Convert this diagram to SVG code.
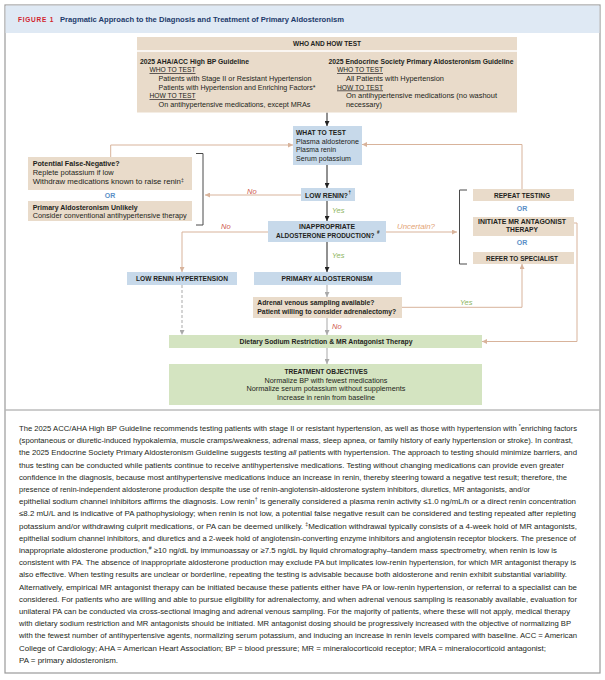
<svg xmlns="http://www.w3.org/2000/svg" width="605" height="680" viewBox="0 0 605 680">
<defs>
<style>
text{font-family:"Liberation Sans",Arial,sans-serif;fill:#231f20;}
.t{font-size:7px;}
.b{font-size:7px;font-weight:bold;}
.c{text-anchor:middle;}
.u{text-decoration:underline;}
.sup{font-size:4.5px;font-weight:bold;}
.or{font-size:7px;font-weight:bold;fill:#5b8fc7;text-anchor:middle;}
.no{font-size:7.5px;font-style:italic;fill:#cf5a50;}
.yes{font-size:7.5px;font-style:italic;fill:#8db55e;}
.unc{font-size:7.5px;font-style:italic;fill:#e3a476;}
.cap{font-size:7.6px;fill:#231f20;}
.tan{fill:#e9dbca;}
.blue{fill:#c7d9ea;}
.green{fill:#d4e4c1;}
.lt{fill:none;stroke:#d8b39b;stroke-width:1;}
.lk{fill:none;stroke:#222;stroke-width:1;}
.lg{fill:none;stroke:#a9a9a9;stroke-width:1;}
.br{fill:none;stroke:#4a4a4a;stroke-width:1;}
</style>
<marker id="ak" viewBox="0 0 6 6" refX="6" refY="3" markerWidth="5" markerHeight="5" orient="auto" markerUnits="userSpaceOnUse"><path d="M0,0 L6,3 L0,6 z" fill="#222"/></marker>
<marker id="at" viewBox="0 0 6 6" refX="6" refY="3" markerWidth="5" markerHeight="5" orient="auto" markerUnits="userSpaceOnUse"><path d="M0,0 L6,3 L0,6 z" fill="#d8b39b"/></marker>
<marker id="ag" viewBox="0 0 6 6" refX="6" refY="3" markerWidth="5" markerHeight="5" orient="auto" markerUnits="userSpaceOnUse"><path d="M0,0 L6,3 L0,6 z" fill="#a9a9a9"/></marker>
</defs>
<rect x="0" y="0" width="605" height="680" fill="#ffffff"/>
<rect x="5" y="5" width="595" height="668" fill="#ffffff" stroke="#9a9a9a" stroke-width="1.2"/>
<rect x="5.6" y="5.6" width="593.8" height="27.4" fill="#dfe9f4"/>
<text x="18" y="21.5" style="font-size:7px;font-weight:bold;fill:#d2232a;letter-spacing:0.8px" textLength="36" lengthAdjust="spacingAndGlyphs">FIGURE 1</text>
<text x="60" y="21.5" style="font-size:8px;font-weight:bold;fill:#1d3a6b" textLength="284" lengthAdjust="spacingAndGlyphs">Pragmatic Approach to the Diagnosis and Treatment of Primary Aldosteronism</text>

<g id="connectors">
<path class="lk" d="M327 112.5 V126" marker-end="url(#ak)"/>
<path class="lk" d="M327 165 V188" marker-end="url(#ak)"/>
<path class="lk" d="M327 201 V221" marker-end="url(#ak)"/>
<path class="lk" d="M327 242 V272" marker-end="url(#ak)"/>
<path class="lt" d="M110.7 157 V145 H293" marker-end="url(#at)"/>
<path class="lt" d="M301 195 H205" marker-end="url(#at)"/>
<path class="lt" d="M268 232 H182 V272" marker-end="url(#at)"/>
<path class="lt" d="M386 232 H457" marker-end="url(#at)"/>
<path class="lt" d="M522 189 V144.5 H362" marker-end="url(#at)"/>
<path class="lt" d="M574 223 H577 V341.5 H482" marker-end="url(#at)"/>
<path class="lt" d="M402 307.3 H522 V264" marker-end="url(#at)"/>
<path class="lg" d="M327 285 V297" marker-end="url(#ag)"/>
<path class="lg" d="M327 318 V335" marker-end="url(#ag)"/>
<path class="lg" d="M327 348 V364" marker-end="url(#ag)"/>
<path class="lg" d="M182 285 V335" stroke-dasharray="3,2" marker-end="url(#ag)"/>
<path class="br" d="M196 153.5 H203 V225 H196"/>
<path class="br" d="M467 190 H459.5 V264 H467"/>
<text class="no" x="247" y="193.5">No</text>
<text class="yes" x="332" y="212.5">Yes</text>
<text class="no" x="221" y="228.5">No</text>
<text class="unc" x="397" y="228.5" textLength="38" lengthAdjust="spacingAndGlyphs">Uncertain?</text>
<text class="yes" x="332" y="257.5">Yes</text>
<text class="yes" x="460" y="305">Yes</text>
<text class="no" x="332" y="329">No</text>
</g>

<g id="who">
<rect class="tan" x="137" y="37" width="380" height="75.5"/>
<line x1="137" y1="51" x2="517" y2="51" stroke="#ffffff" stroke-width="1.5"/>
<text class="b c" x="327" y="46" textLength="68" lengthAdjust="spacingAndGlyphs">WHO AND HOW TEST</text>
<text class="b" x="140" y="63.5" textLength="109" lengthAdjust="spacingAndGlyphs">2025 AHA/ACC High BP Guideline</text>
<text class="t u" x="149.5" y="72" textLength="46" lengthAdjust="spacingAndGlyphs">WHO TO TEST</text>
<text class="t" x="158.5" y="81" textLength="153" lengthAdjust="spacingAndGlyphs">Patients with Stage II or Resistant Hypertension</text>
<text class="t" x="158.5" y="89.5" textLength="157" lengthAdjust="spacingAndGlyphs">Patients with Hypertension and Enriching Factors*</text>
<text class="t u" x="149.5" y="98" textLength="46" lengthAdjust="spacingAndGlyphs">HOW TO TEST</text>
<text class="t" x="158.5" y="106.5" textLength="152" lengthAdjust="spacingAndGlyphs">On antihypertensive medications, except MRAs</text>
<text class="b" x="328.5" y="63.5" textLength="185" lengthAdjust="spacingAndGlyphs">2025 Endocrine Society Primary Aldosteronism Guideline</text>
<text class="t u" x="337" y="72" textLength="46" lengthAdjust="spacingAndGlyphs">WHO TO TEST</text>
<text class="t" x="346" y="81" textLength="98" lengthAdjust="spacingAndGlyphs">All Patients with Hypertension</text>
<text class="t u" x="337" y="89.5" textLength="46" lengthAdjust="spacingAndGlyphs">HOW TO TEST</text>
<text class="t" x="346" y="98" textLength="151" lengthAdjust="spacingAndGlyphs">On antihypertensive medications (no washout</text>
<text class="t" x="346" y="106.5" textLength="36" lengthAdjust="spacingAndGlyphs">necessary)</text>
</g>

<g id="what">
<rect class="blue" x="293" y="126" width="69" height="39"/>
<text class="b" x="296" y="134.5" textLength="50" lengthAdjust="spacingAndGlyphs">WHAT TO TEST</text>
<text class="t" x="296" y="143.5" textLength="63" lengthAdjust="spacingAndGlyphs">Plasma aldosterone</text>
<text class="t" x="296" y="152" textLength="40" lengthAdjust="spacingAndGlyphs">Plasma renin</text>
<text class="t" x="296" y="160.5" textLength="55" lengthAdjust="spacingAndGlyphs">Serum potassium</text>
</g>

<g id="lowrenin">
<rect class="blue" x="301" y="188" width="54" height="13"/>
<text class="b" x="305" y="197.5" textLength="43" lengthAdjust="spacingAndGlyphs">LOW RENIN?</text>
<text class="sup" x="348.6" y="194.3">†</text>
</g>

<g id="inappropriate">
<rect class="blue" x="268" y="221" width="118" height="21"/>
<text class="b c" x="327" y="229.3" textLength="56" lengthAdjust="spacingAndGlyphs">INAPPROPRIATE</text>
<text x="276" y="237.8" style="font-size:6.3px;font-weight:bold" textLength="98.5" lengthAdjust="spacingAndGlyphs">ALDOSTERONE PRODUCTION?</text>
<text class="sup" x="377" y="234.2">#</text>
</g>

<g id="lowreninhtn">
<rect class="blue" x="127" y="272" width="110" height="13"/>
<text class="b c" x="182" y="281" textLength="92" lengthAdjust="spacingAndGlyphs">LOW RENIN HYPERTENSION</text>
</g>

<g id="pa">
<rect class="blue" x="254" y="272" width="147" height="13"/>
<text class="b c" x="327" y="281" textLength="91" lengthAdjust="spacingAndGlyphs">PRIMARY ALDOSTERONISM</text>
</g>

<g id="adrenal">
<rect class="tan" x="253" y="297" width="149" height="21"/>
<text class="b" x="257.3" y="305.3" textLength="117" lengthAdjust="spacingAndGlyphs">Adrenal venous sampling available?</text>
<text class="b" x="257.3" y="314.3" textLength="139" lengthAdjust="spacingAndGlyphs">Patient willing to consider adrenalectomy?</text>
</g>

<g id="dietary">
<rect class="green" x="169" y="335" width="313" height="13"/>
<text class="b c" x="326" y="344" textLength="173" lengthAdjust="spacingAndGlyphs">Dietary Sodium Restriction &amp; MR Antagonist Therapy</text>
</g>

<g id="treatment">
<rect class="green" x="169" y="364" width="313" height="41"/>
<text class="b c" x="326" y="373.5" textLength="83" lengthAdjust="spacingAndGlyphs">TREATMENT OBJECTIVES</text>
<text class="t c" x="326" y="382.5" textLength="123" lengthAdjust="spacingAndGlyphs">Normalize BP with fewest medications</text>
<text class="t c" x="326" y="391.3" textLength="159" lengthAdjust="spacingAndGlyphs">Normalize serum potassium without supplements</text>
<text class="t c" x="326" y="400" textLength="98" lengthAdjust="spacingAndGlyphs">Increase in renin from baseline</text>
</g>

<g id="falseneg">
<rect class="tan" x="28" y="157" width="164" height="33"/>
<text class="b" x="32.7" y="166.3" textLength="87" lengthAdjust="spacingAndGlyphs">Potential False-Negative?</text>
<text class="t" x="32.7" y="175.3" textLength="81" lengthAdjust="spacingAndGlyphs">Replete potassium if low</text>
<text class="t" x="32.7" y="183.8" textLength="151" lengthAdjust="spacingAndGlyphs">Withdraw medications known to raise renin<tspan baseline-shift="super" style="font-size:4.5px">‡</tspan></text>
<text class="or" x="110" y="198">OR</text>
</g>

<g id="unlikely">
<rect class="tan" x="28" y="201" width="164" height="20"/>
<text class="b" x="32.7" y="209.6" textLength="105" lengthAdjust="spacingAndGlyphs">Primary Aldosteronism Unlikely</text>
<text class="t" x="32.7" y="218.3" textLength="154" lengthAdjust="spacingAndGlyphs">Consider conventional antihypertensive therapy</text>
</g>

<g id="repeat">
<rect class="tan" x="473" y="189" width="101" height="12"/>
<text class="b c" x="522" y="197.5" textLength="56" lengthAdjust="spacingAndGlyphs">REPEAT TESTING</text>
<text class="or" x="522" y="211">OR</text>
</g>

<g id="initiate">
<rect class="tan" x="473" y="217" width="101" height="19"/>
<text class="b c" x="522" y="223.5" textLength="88" lengthAdjust="spacingAndGlyphs">INITIATE MR ANTAGONIST</text>
<text class="b c" x="522" y="232" textLength="32" lengthAdjust="spacingAndGlyphs">THERAPY</text>
<text class="or" x="522" y="245">OR</text>
</g>

<g id="refer">
<rect class="tan" x="473" y="252" width="101" height="12"/>
<text class="b c" x="522" y="260.5" textLength="72" lengthAdjust="spacingAndGlyphs">REFER TO SPECIALIST</text>
</g>

<line x1="5.6" y1="410" x2="599.4" y2="410" stroke="#9a9a9a" stroke-width="1"/>

<g id="caption">
<text class="cap" x="19" y="431" textLength="558" lengthAdjust="spacingAndGlyphs">The 2025 ACC/AHA High BP Guideline recommends testing patients with stage II or resistant hypertension, as well as those with hypertension with <tspan baseline-shift="super" style="font-size:5px">*</tspan>enriching factors</text>
<text class="cap" x="19" y="443.2" textLength="554" lengthAdjust="spacingAndGlyphs">(spontaneous or diuretic-induced hypokalemia, muscle cramps/weakness, adrenal mass, sleep apnea, or family history of early hypertension or stroke). In contrast,</text>
<text class="cap" x="19" y="455.4" textLength="558" lengthAdjust="spacingAndGlyphs">the 2025 Endocrine Society Primary Aldosteronism Guideline suggests testing <tspan font-style="italic">all</tspan> patients with hypertension. The approach to testing should minimize barriers, and</text>
<text class="cap" x="19" y="467.6" textLength="545" lengthAdjust="spacingAndGlyphs">thus testing can be conducted while patients continue to receive antihypertensive medications. Testing without changing medications can provide even greater</text>
<text class="cap" x="19" y="479.8" textLength="548" lengthAdjust="spacingAndGlyphs">confidence in the diagnosis, because most antihypertensive medications induce an increase in renin, thereby steering toward a negative test result; therefore, the</text>
<text class="cap" x="19" y="492" textLength="511" lengthAdjust="spacingAndGlyphs">presence of renin-independent aldosterone production despite the use of renin-angiotensin-aldosterone system inhibitors, diuretics, MR antagonists, and/or</text>
<text class="cap" x="19" y="504.2" textLength="557" lengthAdjust="spacingAndGlyphs">epithelial sodium channel inhibitors affirms the diagnosis. Low renin<tspan baseline-shift="super" style="font-size:5px">†</tspan> is generally considered a plasma renin activity ≤1.0 ng/mL/h or a direct renin concentration</text>
<text class="cap" x="19" y="516.4" textLength="557" lengthAdjust="spacingAndGlyphs">≤8.2 mU/L and is indicative of PA pathophysiology; when renin is not low, a potential false negative result can be considered and testing repeated after repleting</text>
<text class="cap" x="19" y="528.6" textLength="558" lengthAdjust="spacingAndGlyphs">potassium and/or withdrawing culprit medications, or PA can be deemed unlikely. <tspan baseline-shift="super" style="font-size:5px">‡</tspan>Medication withdrawal typically consists of a 4-week hold of MR antagonists,</text>
<text class="cap" x="19" y="540.8" textLength="557" lengthAdjust="spacingAndGlyphs">epithelial sodium channel inhibitors, and diuretics and a 2-week hold of angiotensin-converting enzyme inhibitors and angiotensin receptor blockers. The presence of</text>
<text class="cap" x="19" y="553" textLength="538" lengthAdjust="spacingAndGlyphs">inappropriate aldosterone production,<tspan baseline-shift="super" style="font-size:5px">#</tspan> ≥10 ng/dL by immunoassay or ≥7.5 ng/dL by liquid chromatography–tandem mass spectrometry, when renin is low is</text>
<text class="cap" x="19" y="565.2" textLength="557" lengthAdjust="spacingAndGlyphs">consistent with PA. The absence of inappropriate aldosterone production may exclude PA but implicates low-renin hypertension, for which MR antagonist therapy is</text>
<text class="cap" x="19" y="577.4" textLength="548" lengthAdjust="spacingAndGlyphs">also effective. When testing results are unclear or borderline, repeating the testing is advisable because both aldosterone and renin exhibit substantial variability.</text>
<text class="cap" x="19" y="589.6" textLength="558" lengthAdjust="spacingAndGlyphs">Alternatively, empirical MR antagonist therapy can be initiated because these patients either have PA or low-renin hypertension, or referral to a specialist can be</text>
<text class="cap" x="19" y="601.8" textLength="558" lengthAdjust="spacingAndGlyphs">considered. For patients who are willing and able to pursue eligibility for adrenalectomy, and when adrenal venous sampling is reasonably available, evaluation for</text>
<text class="cap" x="19" y="614" textLength="551" lengthAdjust="spacingAndGlyphs">unilateral PA can be conducted via cross-sectional imaging and adrenal venous sampling. For the majority of patients, where these will not apply, medical therapy</text>
<text class="cap" x="19" y="626.2" textLength="552" lengthAdjust="spacingAndGlyphs">with dietary sodium restriction and MR antagonists should be initiated. MR antagonist dosing should be progressively increased with the objective of normalizing BP</text>
<text class="cap" x="19" y="638.4" textLength="558" lengthAdjust="spacingAndGlyphs">with the fewest number of antihypertensive agents, normalizing serum potassium, and inducing an increase in renin levels compared with baseline. ACC = American</text>
<text class="cap" x="19" y="650.6" textLength="527" lengthAdjust="spacingAndGlyphs">College of Cardiology; AHA = American Heart Association; BP = blood pressure; MR = mineralocorticoid receptor; MRA = mineralocorticoid antagonist;</text>
<text class="cap" x="19" y="662.8" textLength="99" lengthAdjust="spacingAndGlyphs">PA = primary aldosteronism.</text>
</g>
</svg>
